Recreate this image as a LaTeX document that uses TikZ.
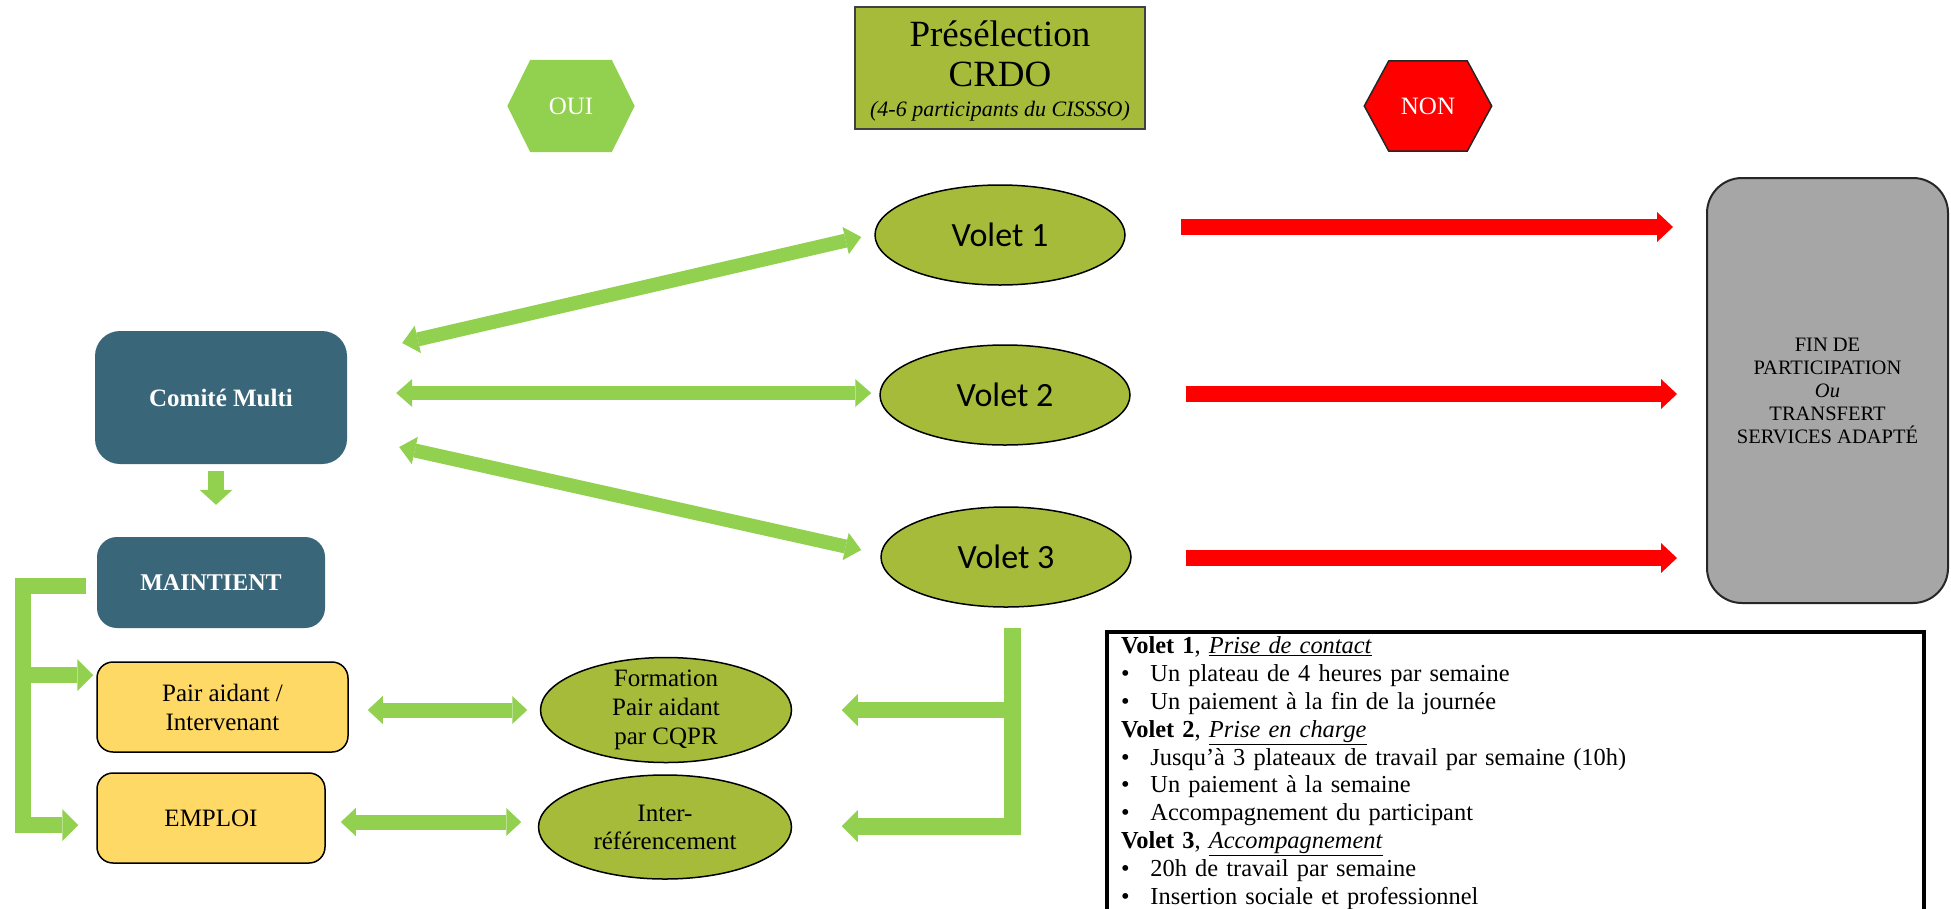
\documentclass[tikz,border=0pt]{standalone}
\usepackage{fontspec}
\setmainfont{Liberation Serif}
\newfontfamily\calibri{Carlito}
\usetikzlibrary{arrows.meta,calc,shapes.geometric,backgrounds}
\definecolor{teal1}{RGB}{58,102,122}
\definecolor{lgreen}{RGB}{146,208,80}
\definecolor{olive1}{RGB}{166,187,58}
\definecolor{yel}{RGB}{255,217,102}
\definecolor{gray1}{RGB}{166,166,166}
\definecolor{red1}{RGB}{255,0,0}
\newcommand{\bul}{\makebox[29.5pt][l]{\textbullet}}
\begin{document}
\begin{tikzpicture}[x=1pt,y=-1pt,
  every node/.style={inner sep=0pt},
  tealbox/.style={fill=teal1, text=white, font=\bfseries\fontsize{25}{29}\selectfont},
  yelbox/.style={fill=yel, draw=black, line width=1.5pt, rounded corners=16pt, align=center, font=\fontsize{25}{29}\selectfont},
  voletell/.style={ellipse, draw=black, line width=1.5pt, fill=olive1, minimum width=250pt, minimum height=100pt, font=\calibri\fontsize{34}{40}\selectfont},
  smallell/.style={ellipse, draw=black, line width=1.5pt, fill=olive1, align=center},
  hexlbl/.style={text=white, font=\fontsize{25}{29}\selectfont},
  gline/.style={draw=lgreen, line width=16pt, -{Triangle[width=32pt,length=16pt,line width=0pt]}},
  vdbl/.style={draw=lgreen, line width=14pt, >={Triangle[width=28pt,length=16pt,line width=0pt]}, <->},
  hdbl/.style={draw=lgreen, line width=15pt, >={Triangle[width=28pt,length=15pt,line width=0pt]}, <->},
  rarrow/.style={draw=red1, line width=16pt, -{Triangle[width=30pt,length=16pt,line width=0pt]}}
]
\useasboundingbox (0,0) rectangle (1951,908);

% header
\node[hexlbl, minimum width=127pt, minimum height=92pt] (oui) at (571,106) {OUI};
\node[hexlbl, minimum width=127pt, minimum height=90pt] (non) at (1428,106) {NON};
\node[draw=black!75, line width=2pt, fill=olive1, minimum width=290pt, minimum height=122pt, align=center, font=\fontsize{37}{30}\selectfont] (pre) at (1000,68)
  {\rule{0pt}{32pt}Présélection\\[10pt]CRDO\\{\fontsize{22}{30}\selectfont\itshape (4-6 participants du CISSSO)}};

\begin{scope}[on background layer]
\fill[lgreen] (oui.west) -- ([xshift=23pt]oui.north west) -- ([xshift=-23pt]oui.north east) -- (oui.east)
  -- ([xshift=-23pt]oui.south east) -- ([xshift=23pt]oui.south west) -- cycle;
\filldraw[fill=red1, draw=black!85, line width=1.5pt] (non.west) -- ([xshift=24.5pt]non.north west) -- ([xshift=-24.5pt]non.north east) -- (non.east)
  -- ([xshift=-24.5pt]non.south east) -- ([xshift=24.5pt]non.south west) -- cycle;
\end{scope}

% volets
\node[voletell] (v1) at (1000,235) {Volet 1};
\node[voletell] (v2) at (1005,395) {Volet 2};
\node[voletell] (v3) at (1006,557) {Volet 3};

% end box
\node[draw=black!85, line width=2pt, fill=gray1, rounded corners=35pt, minimum width=241pt, minimum height=425pt, align=center, font=\fontsize{20.5}{23}\selectfont] (fin) at (1827.5,390.5)
  {FIN DE\\PARTICIPATION\\\textit{Ou}\\TRANSFERT\\SERVICES ADAPTÉ};

% left column
\node[tealbox, minimum width=252pt, minimum height=133pt, rounded corners=25pt] (comite) at (221,397.5) {Comité Multi};
\node[tealbox, minimum width=228pt, minimum height=91pt, rounded corners=20pt, font=\bfseries\fontsize{24}{28}\selectfont] (maint) at (211,582.5) {MAINTIENT};
\node[yelbox, minimum width=251pt, minimum height=90pt] (pair) at (222.5,707) {Pair aidant /\\Intervenant};
\node[yelbox, minimum width=228pt, minimum height=90pt] (emploi) at (211,818) {EMPLOI};
\node[smallell, minimum width=251pt, minimum height=105pt, inner ysep=-6pt, font=\fontsize{25}{29}\selectfont] (form) at (666,710) {Formation\\Pair aidant\\par CQPR};
\node[smallell, minimum width=253pt, minimum height=104pt, font=\fontsize{25}{28}\selectfont] (inter) at (665,827) {Inter-\\référencement};

% legend
\node[draw=black, line width=4pt, anchor=north west, text width=789pt, inner xsep=14pt, inner ysep=5pt, align=left, font=\fontsize{24.4}{27.8}\selectfont] (leg) at (1105,630) {%
\textbf{Volet 1}, \underline{\textit{Prise de contact}}\\
\bul Un plateau de 4 heures par semaine\\
\bul Un paiement à la fin de la journée\\
\textbf{Volet 2}, \underline{\textit{Prise en charge}}\\
\bul Jusqu’à 3 plateaux de travail par semaine (10h)\\
\bul Un paiement à la semaine\\
\bul Accompagnement du participant\\
\textbf{Volet 3}, \underline{\textit{Accompagnement}}\\
\bul 20h de travail par semaine\\
\bul Insertion sociale et professionnel};

% connectors: Comite <-> volets
\draw[vdbl] ($(comite.east)+(55,-54.5)$) -- ($(v1.west)+(-13,2)$);
\draw[vdbl] ($(comite.east)+(49,-4.5)$) -- ($(v2.west)+(-8,-2)$);
\draw[vdbl] ($(comite.east)+(52,49.5)$) -- ($(v3.west)+(-19,-7)$);

% Comite -> Maintient
\draw[draw=lgreen, line width=16pt, -{Triangle[width=33pt,length=15pt,line width=0pt]}] ($(comite.south)+(-5,7)$) -- ($(maint.north)+(5,-32)$);

% left bracket
\draw[gline] ($(maint.west)+(-11,3.5)$) -- ($(maint.west)+(-73.5,3.5)$) |- ($(emploi.west)+(-18,7)$);
\draw[gline] ($(pair.west)+(-73.5,-32)$) -- ($(pair.west)+(-3,-32)$);

% right bracket from volet 3
\draw[gline, line width=17pt] ($(v3.south)+(6,20)$) |- ($(inter.east)+(49.5,-1)$);
\draw[gline] ($(form.east)+(220.5,0)$) -- ($(form.east)+(49.5,0)$);

% horizontal double arrows
\draw[hdbl] ($(pair.east)+(19,3)$) -- ($(form.west)+(-12.5,0)$);
\draw[hdbl] ($(emploi.east)+(15,4)$) -- ($(inter.west)+(-16.5,-5)$);

% red arrows
\draw[rarrow] ($(v1.east)+(55,-8)$) -- ($(fin.west|-v1.east)+(-33,-8)$);
\draw[rarrow] ($(v2.east)+(55,-1)$) -- ($(fin.west|-v2.east)+(-29,-1)$);
\draw[rarrow] ($(v3.east)+(54,1)$) -- ($(fin.west|-v3.east)+(-29,1)$);
\end{tikzpicture}
\end{document}
